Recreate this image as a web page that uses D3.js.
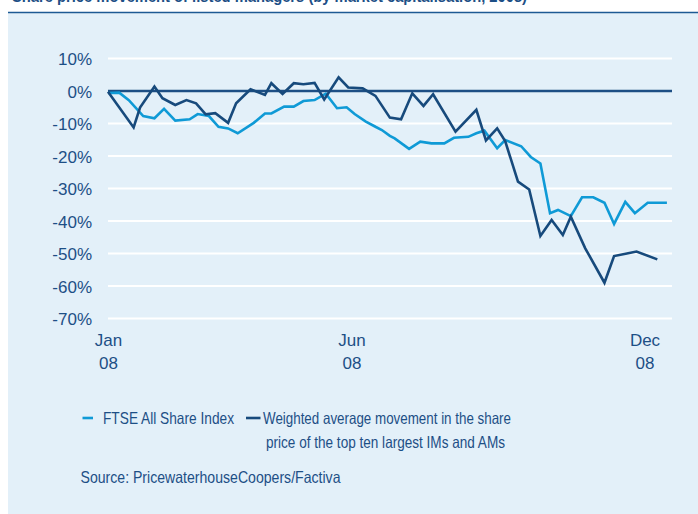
<!DOCTYPE html>
<html>
<head>
<meta charset="utf-8">
<script src="https://cdn.jsdelivr.net/npm/d3@7/dist/d3.min.js"></script>
<style>
  html, body { margin: 0; padding: 0; background: #ffffff; }
  svg { display: block; font-family: "Liberation Sans", Arial, Helvetica, sans-serif; }
</style>
</head>
<body>
<svg id="chart" width="698" height="514"></svg>
<script>
// ============================================
// FTSE vs top ten IMs/AMs share price movement, 2008
// ============================================

// FTSE All Share Index (% change since start of 2008)
const ftseDates = [
  "2008-01-01", "2008-01-08", "2008-01-14", "2008-01-23", "2008-01-30", "2008-02-05",
  "2008-02-12", "2008-02-21", "2008-02-26", "2008-03-04", "2008-03-10", "2008-03-16",
  "2008-03-22", "2008-04-01", "2008-04-08", "2008-04-12", "2008-04-20", "2008-04-26",
  "2008-05-02", "2008-05-09", "2008-05-16", "2008-05-23", "2008-05-29", "2008-06-03",
  "2008-06-10", "2008-06-16", "2008-06-20", "2008-06-25", "2008-06-28", "2008-07-07",
  "2008-07-14", "2008-07-21", "2008-07-29", "2008-08-04", "2008-08-13", "2008-08-18",
  "2008-08-23", "2008-08-31", "2008-09-05", "2008-09-15", "2008-09-21", "2008-09-27",
  "2008-10-03", "2008-10-08", "2008-10-16", "2008-10-23", "2008-10-30", "2008-11-06",
  "2008-11-12", "2008-11-19", "2008-11-25", "2008-12-03", "2008-12-15"
];
const ftseValues = [
  -0.6, -0.5, -2.8, -7.7, -8.4, -5.5,
  -9.1, -8.7, -7.1, -7.7, -11.0, -11.5,
  -13.0, -9.8, -6.9, -6.9, -4.8, -4.8,
  -3.1, -2.8, -0.8, -5.3, -5.0, -7.1,
  -9.4, -11.0, -12.0, -13.8, -14.6, -17.8,
  -15.6, -16.1, -16.1, -14.4, -14.1, -13.0,
  -12.2, -17.6, -15.1, -17.0, -20.3, -22.3,
  -37.6, -36.6, -38.5, -32.7, -32.7, -34.4,
  -40.9, -34.1, -37.6, -34.4, -34.4
];

// Weighted average movement of the top ten largest IMs and AMs
const topTenDates = [
  "2008-01-01", "2008-01-17", "2008-01-21", "2008-01-30", "2008-02-04", "2008-02-12",
  "2008-02-19", "2008-02-25", "2008-03-02", "2008-03-08", "2008-03-16", "2008-03-21",
  "2008-03-30", "2008-04-08", "2008-04-12", "2008-04-19", "2008-04-26", "2008-05-02",
  "2008-05-09", "2008-05-15", "2008-05-24", "2008-05-30", "2008-06-08", "2008-06-16",
  "2008-06-25", "2008-07-02", "2008-07-09", "2008-07-16", "2008-07-22", "2008-08-05",
  "2008-08-18", "2008-08-24", "2008-08-31", "2008-09-05", "2008-09-13", "2008-09-20",
  "2008-09-27", "2008-10-04", "2008-10-11", "2008-10-16", "2008-10-25", "2008-11-06",
  "2008-11-12", "2008-11-26", "2008-12-09"
];
const topTenValues = [
  -0.2, -11.2, -5.1, 1.4, -2.2, -4.3,
  -2.8, -3.8, -7.2, -6.8, -9.8, -3.8,
  0.5, -1.2, 2.4, -0.9, 2.4, 2.1,
  2.5, -2.6, 4.2, 1.1, 0.8, -1.5,
  -8.2, -8.7, -0.7, -4.6, -1.0, -12.5,
  -5.8, -15.2, -11.5, -15.4, -27.9, -30.3,
  -44.6, -39.7, -44.3, -38.7, -48.4, -59.0,
  -50.8, -49.4, -51.8
];

const yTicks = [10, 0, -10, -20, -30, -40, -50, -60, -70];
const xTickDates = ["2008-01-01", "2008-06-01", "2008-12-01"];
const xTickLabels = [["Jan", "08"], ["Jun", "08"], ["Dec", "08"]];

const seriesNames = [
  ["FTSE All Share Index"],
  ["Weighted average movement in the share", "price of the top ten largest IMs and AMs"]
];
const sourceText = "Source: PricewaterhouseCoopers/Factiva";
const titleText = "Share price movement of listed managers (by market capitalisation, 2008)";

// --------------------------------------------
// Styles
// --------------------------------------------
const COLORS = {
  panel: "#e3f0f9",
  rule: "#1d5a94",
  text: "#1d4f86",
  ftse: "#0f9ad6",
  topTen: "#174a7c",
  zero: "#1d4f85",
  grid: "#ffffff"
};

const parseDate = d3.timeParse("%Y-%m-%d");

const svg = d3.select("#chart");

// Title (mostly above the frame, as in the source page) and rule
svg.append("text")
  .attr("x", 12)
  .attr("y", 1.5)
  .attr("font-size", 16)
  .attr("font-weight", "bold")
  .attr("fill", COLORS.text)
  .attr("textLength", 515)
  .attr("lengthAdjust", "spacingAndGlyphs")
  .text(titleText);

svg.append("rect")
  .attr("x", 8).attr("y", 12.5)
  .attr("width", 690).attr("height", 502)
  .attr("fill", COLORS.panel);

svg.append("line")
  .attr("x1", 8).attr("x2", 698)
  .attr("y1", 12.5).attr("y2", 12.5)
  .attr("stroke", COLORS.rule)
  .attr("stroke-width", 1.3);

// --------------------------------------------
// Scales
// --------------------------------------------
const plotLeft = 108, plotRight = 672;

const x = d3.scaleTime()
  .domain([parseDate("2008-01-01"), parseDate("2008-12-01")])
  .range([108, 644.5]);

const y = d3.scaleLinear()
  .domain([-70, 10])
  .range([318.5, 58.5]);

// Gridlines
svg.append("g")
  .selectAll("line")
  .data(yTicks.filter(d => d !== 0))
  .enter()
  .append("line")
  .attr("x1", plotLeft).attr("x2", plotRight)
  .attr("y1", d => y(d)).attr("y2", d => y(d))
  .attr("stroke", COLORS.grid)
  .attr("stroke-width", 2);

// Y axis labels
const yAxis = d3.axisLeft(y)
  .tickValues(yTicks)
  .tickFormat(d => d + "%")
  .tickSize(0)
  .tickPadding(16);

const yAxisG = svg.append("g")
  .attr("transform", `translate(${plotLeft},0)`)
  .call(yAxis);
yAxisG.select(".domain").remove();
yAxisG.selectAll("text")
  .attr("font-family", "'Liberation Sans', Arial, sans-serif")
  .attr("font-size", 17)
  .attr("fill", COLORS.text)
  .attr("dy", "0.36em");

// X axis labels (two lines)
const xAxis = d3.axisBottom(x)
  .tickValues(xTickDates.map(parseDate))
  .tickSize(0)
  .tickFormat("");

const xAxisG = svg.append("g")
  .attr("transform", `translate(0,${y(-70)})`)
  .call(xAxis);
xAxisG.select(".domain").remove();
xAxisG.selectAll(".tick text").remove();
xAxisG.selectAll(".tick")
  .append("text")
  .attr("text-anchor", "middle")
  .attr("font-family", "'Liberation Sans', Arial, sans-serif")
  .attr("font-size", 17)
  .attr("fill", COLORS.text)
  .each(function(d, i) {
    const t = d3.select(this);
    xTickLabels[i].forEach((s, j) => {
      t.append("tspan")
        .attr("x", 0)
        .attr("y", 27.5 + j * 23)
        .text(s);
    });
  });

// Zero line
svg.append("line")
  .attr("x1", plotLeft).attr("x2", plotRight)
  .attr("y1", y(0)).attr("y2", y(0))
  .attr("stroke", COLORS.zero)
  .attr("stroke-width", 2.6);

// --------------------------------------------
// Lines
// --------------------------------------------
const line = d3.line()
  .x(d => x(d.date))
  .y(d => y(d.value));

const ftseData = ftseDates.map((d, i) => ({ date: parseDate(d), value: ftseValues[i] }));
const topTenData = topTenDates.map((d, i) => ({ date: parseDate(d), value: topTenValues[i] }));

svg.append("path")
  .datum(ftseData)
  .attr("fill", "none")
  .attr("stroke", COLORS.ftse)
  .attr("stroke-width", 2.6)
  .attr("stroke-linejoin", "miter")
  .attr("d", line);

svg.append("path")
  .datum(topTenData)
  .attr("fill", "none")
  .attr("stroke", COLORS.topTen)
  .attr("stroke-width", 2.6)
  .attr("stroke-linejoin", "miter")
  .attr("d", line);

// --------------------------------------------
// Legend and source
// --------------------------------------------
const legend = svg.append("g");

legend.append("line")
  .attr("x1", 82.5).attr("x2", 93)
  .attr("y1", 418).attr("y2", 418)
  .attr("stroke", COLORS.ftse)
  .attr("stroke-width", 2.6);

legend.append("text")
  .attr("x", 103).attr("y", 424)
  .attr("font-size", 16.5)
  .attr("fill", COLORS.text)
  .attr("textLength", 131)
  .attr("lengthAdjust", "spacingAndGlyphs")
  .text(seriesNames[0][0]);

legend.append("line")
  .attr("x1", 246).attr("x2", 260.5)
  .attr("y1", 418).attr("y2", 418)
  .attr("stroke", COLORS.topTen)
  .attr("stroke-width", 2.6);

legend.append("text")
  .attr("x", 263).attr("y", 424)
  .attr("font-size", 16.5)
  .attr("fill", COLORS.text)
  .attr("textLength", 248)
  .attr("lengthAdjust", "spacingAndGlyphs")
  .text(seriesNames[1][0]);

legend.append("text")
  .attr("x", 266).attr("y", 448)
  .attr("font-size", 16.5)
  .attr("fill", COLORS.text)
  .attr("textLength", 239)
  .attr("lengthAdjust", "spacingAndGlyphs")
  .text(seriesNames[1][1]);

svg.append("text")
  .attr("x", 80.5).attr("y", 483)
  .attr("font-size", 16.5)
  .attr("fill", COLORS.text)
  .attr("textLength", 260)
  .attr("lengthAdjust", "spacingAndGlyphs")
  .text(sourceText);
</script>
</body>
</html>
